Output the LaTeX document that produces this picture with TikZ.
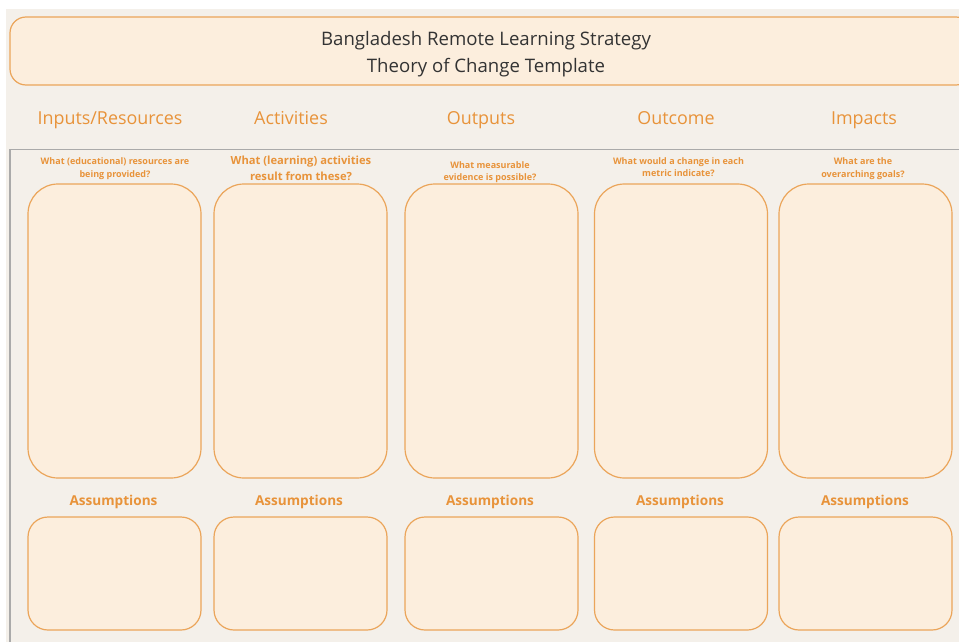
\documentclass[tikz,border=0pt]{standalone}
\usepackage{fontspec}
\setmainfont{Open Sans}
\definecolor{bgc}{HTML}{F4F0EA}
\definecolor{boxfill}{HTML}{FCEEDD}
\definecolor{boxline}{HTML}{EBA55A}
\definecolor{orangetxt}{HTML}{E8933A}
\definecolor{titletxt}{HTML}{333333}
\definecolor{framec}{HTML}{AAAAAA}
\tikzset{
  bigbox/.style={draw=boxline, fill=boxfill, line width=1.2pt, rounded corners=30pt, minimum width=173pt, minimum height=294pt, inner sep=0pt},
  smallbox/.style={draw=boxline, fill=boxfill, line width=1.2pt, rounded corners=20pt, minimum width=173pt, minimum height=113pt, inner sep=0pt},
  heading/.style={text=orangetxt, font=\fontsize{17.9}{20}\selectfont, inner sep=0pt, anchor=base},
  question/.style={text=orangetxt, font=\bfseries\fontsize{9}{12.5}\selectfont, align=center, inner sep=0pt, anchor=base},
  bigquestion/.style={text=orangetxt, font=\bfseries\fontsize{11.2}{16}\selectfont, align=center, inner sep=0pt, anchor=base},
  smallquestion/.style={text=orangetxt, font=\bfseries\fontsize{9}{12}\selectfont, align=center, inner sep=0pt, anchor=base},
  assume/.style={text=orangetxt, font=\bfseries\fontsize{13.6}{15}\selectfont, inner sep=0pt, anchor=base},
}
\begin{document}
\begin{tikzpicture}[x=1pt,y=-1pt]
\useasboundingbox (0,0) rectangle (959,642);
\clip (0,0) rectangle (959,642);
\fill[white] (0,0) rectangle (959,642);
\fill[bgc] (6,9) rectangle (959,642);
% title box
\node[draw=boxline, fill=boxfill, line width=1.2pt, rounded corners=16pt, minimum width=962pt, minimum height=68pt, inner sep=0pt] (title) at (491,51) {};
\node[text=titletxt, align=center, font=\fontsize{18.6}{27}\selectfont, inner sep=0pt, anchor=base] (titletext) at (486,73) {Bangladesh Remote Learning Strategy\\Theory of Change Template};
% frame
\draw[framec, line width=1.8pt] (10,642) -- (10,149.5) -- (960,149.5);
% headings
\node[heading] (h1) at (110,124.5) {Inputs/Resources};
\node[heading] (h2) at (291,124.5) {Activities};
\node[heading] (h3) at (481,124.5) {Outputs};
\node[heading] (h4) at (676,124.5) {Outcome};
\node[heading] (h5) at (864,124.5) {Impacts};
% questions
\node[question] (q1) at (115,177) {What (educational) resources are\\being provided?};
\node[bigquestion] (q2) at (301,180) {What (learning) activities\\result from these?};
\node[smallquestion] (q3) at (490,180) {What measurable\\evidence is possible?};
\node[question] (q4) at (678.5,176.5) {What would a change in each\\metric indicate?};
\node[question] (q5) at (863,177) {What are the\\overarching goals?};
% big boxes
\node[bigbox] (b1) at (114.5,331) {};
\node[bigbox] (b2) at (300.5,331) {};
\node[bigbox] (b3) at (491.5,331) {};
\node[bigbox] (b4) at (681,331) {};
\node[bigbox] (b5) at (865.5,331) {};
% assumptions labels
\node[assume] (a1) at (113.5,505) {Assumptions};
\node[assume] (a2) at (299,505) {Assumptions};
\node[assume] (a3) at (490,505) {Assumptions};
\node[assume] (a4) at (680,505) {Assumptions};
\node[assume] (a5) at (865,505) {Assumptions};
% small boxes
\node[smallbox] (s1) at (114.5,573.5) {};
\node[smallbox] (s2) at (300.5,573.5) {};
\node[smallbox] (s3) at (491.5,573.5) {};
\node[smallbox] (s4) at (681,573.5) {};
\node[smallbox] (s5) at (865.5,573.5) {};
\end{tikzpicture}
\end{document}
